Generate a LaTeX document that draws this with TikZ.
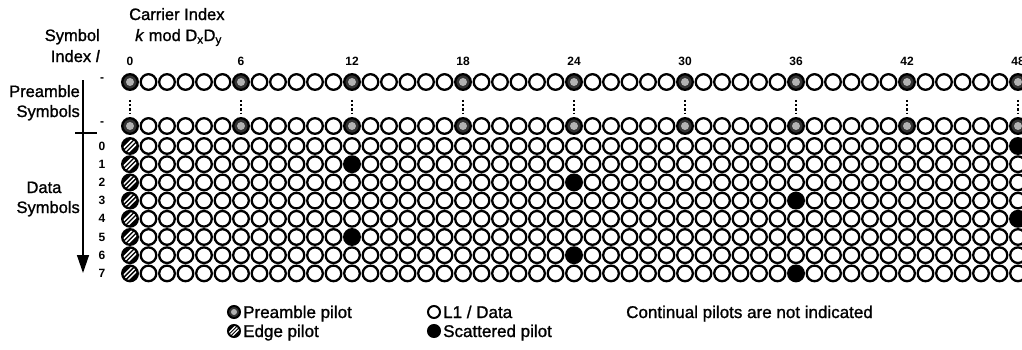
\documentclass[tikz,border=0pt]{standalone}
\usepackage{fontspec}
\setmainfont{Liberation Sans}
\newfontfamily\medsans{Liberation Sans}[FakeBold=1.2]
\usetikzlibrary{arrows.meta}
\begin{document}
\begin{tikzpicture}[x=1pt,y=-1pt,
  cell/.style={circle, draw=black, line width=2.3pt, minimum size=15.6pt, inner sep=0pt},
  datac/.style={cell, fill=white},
  scatpilot/.style={cell, fill=black},
  prepilot/.style={cell, fill=black!80, path picture={\fill[black!30] (path picture bounding box.center) circle (4pt);}},
  edgepilot/.style={cell, fill=black, path picture={
      \foreach \o in {-4.5,0,4.5}{\draw[white, line width=1.5pt] ([xshift=\o pt-7pt,yshift=-7pt]path picture bounding box.center) -- ++(14pt,14pt);}}},
  lcell/.style={circle, draw=black, line width=2pt, minimum size=12pt, inner sep=0pt},
  lpre/.style={lcell, fill=black!80, path picture={\fill[black!30] (path picture bounding box.center) circle (3pt);}},
  ledge/.style={lcell, fill=black, path picture={
      \foreach \o in {-3.5,0,3.5}{\draw[white, line width=1.3pt] ([xshift=\o pt-6pt,yshift=-6pt]path picture bounding box.center) -- ++(12pt,12pt);}}},
  ldata/.style={lcell, fill=white},
  lscat/.style={lcell, fill=black},
  lbl/.style={font=\medsans\fontsize{16.5}{19}\selectfont, inner sep=0pt},
  leg/.style={font=\medsans\fontsize{17}{20}\selectfont, inner sep=0pt, anchor=base west},
  idx/.style={font=\fontsize{12}{14}\selectfont\bfseries, inner sep=0pt},
  dotline/.style={line width=2pt, dash pattern=on 2.2pt off 2pt},
  axis/.style={line width=1.4pt}
]
\useasboundingbox (0,0) rectangle (1022,349);

% header texts
\node[lbl, anchor=base west] (ci) at (129,20) {Carrier Index};
\node[lbl, anchor=base west] (km) at (135,41) {\textit{k} mod D\textsubscript{x}D\textsubscript{y}};
\node[lbl, anchor=base east] (sy) at (100,41) {Symbol};
\node[lbl, anchor=base east] (si) at (100,62) {Index \textit{l}};

% column labels
\foreach \c in {0,6,...,48}{
  \node[idx] (cl\c) at ({130+18.5*\c},61) {\c};
}

% preamble rows
\foreach \c in {0,...,48}{
  \pgfmathtruncatemacro\m{mod(\c,6)}
  \ifnum\m=0 \def\st{prepilot}\else\def\st{datac}\fi
  \node[\st] (pa\c) at ({130+18.5*\c},82) {};
  \node[\st] (pb\c) at ({130+18.5*\c},126) {};
}
\foreach \c in {0,6,...,48}{
  \draw[dotline] ([yshift=-9pt]pa\c.south) -- ([yshift=4pt]pb\c.north);
}

% data rows
\foreach \r in {0,...,7}{
  \foreach \c in {0,...,48}{
    \pgfmathtruncatemacro\sc{12*mod(\r,4)}
    \ifnum\c=0 \def\st{edgepilot}\else
      \ifnum\c=\sc \def\st{scatpilot}\else
        \ifnum\c=\numexpr\sc+48\relax \def\st{scatpilot}\else\def\st{datac}\fi
      \fi
    \fi
    \node[\st] (d\r-\c) at ({130+18.5*\c},{146+18.2*\r}) {};
  }
  \node[idx] (rl\r) at (102,{146+18.2*\r}) {\r};
}
\node[idx] (rla) at (102,80) {-};
\node[idx] (rlb) at (102,124) {-};

% left axis
\coordinate (axtop) at (83,80);
\coordinate (axbot) at (83,273);
\coordinate (tkl) at (75,133);
\coordinate (tkr) at (97,133);
\draw[axis, -{Triangle[length=18pt,width=12pt]}] (axtop) -- (axbot);
\draw[axis] (tkl) -- (tkr);

\node[lbl, anchor=base east] (pr1) at (80,97) {Preamble};
\node[lbl, anchor=base east] (pr2) at (80,117) {Symbols};
\node[lbl, anchor=base] (ds1) at (44,193) {Data};
\node[lbl, anchor=base east] (ds2) at (80,213) {Symbols};

% legend
\node[lpre] (lg1) at (234,312) {};
\node[leg] (lt1) at (243,318) {Preamble pilot};
\node[ledge] (lg2) at (234,331) {};
\node[leg] (lt2) at (243,337) {Edge pilot};
\node[ldata] (lg3) at (434,312) {};
\node[leg] (lt3) at (443,318) {L1 / Data};
\node[lscat] (lg4) at (434,331) {};
\node[leg] (lt4) at (443,337) {Scattered pilot};
\node[leg] (lt5) at (626,318) {Continual pilots are not indicated};
\end{tikzpicture}
\end{document}
